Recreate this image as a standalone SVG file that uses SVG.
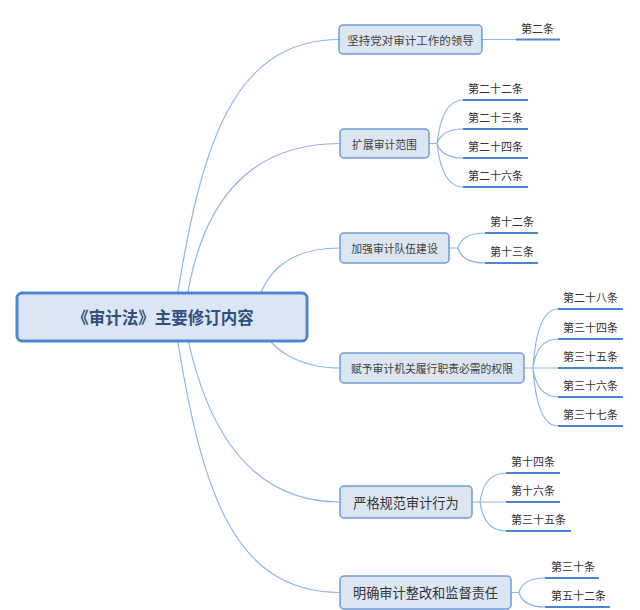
<svg xmlns="http://www.w3.org/2000/svg" width="640" height="610" viewBox="0 0 640 610">
<style>
.conn{fill:none;stroke:#8fb6ea;stroke-width:1.2}
.ul{stroke:#4a86d4;stroke-width:2.2}
.root{fill:#dce6f2;stroke:#4f86cf;stroke-width:3}
.box{fill:#dce6f2;stroke:#6c9bd8;stroke-width:1.5}
.rt{font-family:"Noto Sans CJK SC",sans-serif;font-weight:bold;font-size:16.5px;fill:#2f4f7f;text-anchor:middle;dominant-baseline:central}
.bt{font-family:"Noto Sans CJK SC",sans-serif;font-size:10.8px;fill:#404040;text-anchor:middle;dominant-baseline:central}
.bt2{font-family:"Noto Sans CJK SC",sans-serif;font-size:13.2px;fill:#333333;text-anchor:middle;dominant-baseline:central}
.lt{font-family:"Noto Sans CJK SC",sans-serif;font-size:11px;fill:#333333}
</style>
<rect width="640" height="610" fill="#ffffff"/>
<g id="connectors">
<path class="conn" d="M175 310 C200 150 230 39.5 340 39.5"/>
<path class="conn" d="M185 310 C200 200 250 143.5 340 143.5"/>
<path class="conn" d="M255 310 C265 270 290 248 340 248"/>
<path class="conn" d="M258 320 C268 350 300 368 340 368"/>
<path class="conn" d="M185 325 C205 430 250 502 340 502"/>
<path class="conn" d="M175 324 C200 484 230 592.5 340 592.5"/>
<path class="conn" d="M482 39.5 H516"/>
<path class="conn" d="M429 143.5 H437 M437 143.5 Q442 100 463 100 M437 143.5 Q442 129 463 129 M437 143.5 Q442 158 463 158 M437 143.5 Q442 187 463 187"/>
<path class="conn" d="M449 248 H458 M458 248 Q462 233 485 233 M458 248 Q462 263 485 263"/>
<path class="conn" d="M524 368 H533 M533 368 Q537 309 558 309 M533 368 Q537 339 558 339 M533 368 H558 M533 368 Q537 397 558 397 M533 368 Q537 426 558 426"/>
<path class="conn" d="M472 502 H480 M480 502 Q484 473 506 473 M480 502 H506 M480 502 Q484 531 506 531"/>
<path class="conn" d="M511 592.5 H519 M519 592.5 Q523 578 545 578 M519 592.5 Q523 607 545 607"/>
</g>
<g id="root">
<rect class="root" x="17" y="293" width="290" height="48" rx="5"/>
<text class="rt" x="163" y="317">《审计法》主要修订内容</text>
</g>
<g id="b1">
<rect class="box" x="339" y="25" width="143" height="29" rx="4"/>
<text class="bt" x="410.5" y="39.5" style="font-size:11.5px">坚持党对审计工作的领导</text>
</g>
<g id="b2">
<rect class="box" x="340" y="129" width="89" height="29" rx="4"/>
<text class="bt" x="384.5" y="143.5">扩展审计范围</text>
</g>
<g id="b3">
<rect class="box" x="340" y="233" width="109" height="30" rx="4"/>
<text class="bt" x="394.5" y="248">加强审计队伍建设</text>
</g>
<g id="b4">
<rect class="box" x="340" y="353" width="184" height="30" rx="4"/>
<text class="bt" x="432" y="368">赋予审计机关履行职责必需的权限</text>
</g>
<g id="b5">
<rect class="box" x="340" y="486" width="132" height="32" rx="4"/>
<text class="bt2" x="406" y="502">严格规范审计行为</text>
</g>
<g id="b6">
<rect class="box" x="340" y="576" width="171" height="33" rx="4"/>
<text class="bt2" x="425.5" y="592.5">明确审计整改和监督责任</text>
</g>
<g id="l1"><line class="ul" x1="516" y1="39.5" x2="560" y2="39.5"/><text class="lt" x="521" y="33">第二条</text></g>
<g id="l2a"><line class="ul" x1="463" y1="100" x2="528" y2="100"/><text class="lt" x="468" y="93">第二十二条</text></g>
<g id="l2b"><line class="ul" x1="463" y1="129" x2="528" y2="129"/><text class="lt" x="468" y="122">第二十三条</text></g>
<g id="l2c"><line class="ul" x1="463" y1="158" x2="528" y2="158"/><text class="lt" x="468" y="151">第二十四条</text></g>
<g id="l2d"><line class="ul" x1="463" y1="187" x2="528" y2="187"/><text class="lt" x="468" y="180">第二十六条</text></g>
<g id="l3a"><line class="ul" x1="485" y1="233" x2="538" y2="233"/><text class="lt" x="490" y="226">第十二条</text></g>
<g id="l3b"><line class="ul" x1="485" y1="263" x2="538" y2="263"/><text class="lt" x="490" y="256">第十三条</text></g>
<g id="l4a"><line class="ul" x1="558" y1="309" x2="623" y2="309"/><text class="lt" x="563" y="302">第二十八条</text></g>
<g id="l4b"><line class="ul" x1="558" y1="339" x2="623" y2="339"/><text class="lt" x="563" y="332">第三十四条</text></g>
<g id="l4c"><line class="ul" x1="558" y1="368" x2="623" y2="368"/><text class="lt" x="563" y="361">第三十五条</text></g>
<g id="l4d"><line class="ul" x1="558" y1="397" x2="623" y2="397"/><text class="lt" x="563" y="390">第三十六条</text></g>
<g id="l4e"><line class="ul" x1="558" y1="426" x2="623" y2="426"/><text class="lt" x="563" y="419">第三十七条</text></g>
<g id="l5a"><line class="ul" x1="506" y1="473" x2="560" y2="473"/><text class="lt" x="511" y="466">第十四条</text></g>
<g id="l5b"><line class="ul" x1="506" y1="502" x2="560" y2="502"/><text class="lt" x="511" y="495">第十六条</text></g>
<g id="l5c"><line class="ul" x1="506" y1="531" x2="571" y2="531"/><text class="lt" x="511" y="524">第三十五条</text></g>
<g id="l6a"><line class="ul" x1="545" y1="578" x2="599" y2="578"/><text class="lt" x="551" y="571">第三十条</text></g>
<g id="l6b"><line class="ul" x1="545" y1="607" x2="610" y2="607"/><text class="lt" x="551" y="600">第五十二条</text></g>
</svg>
